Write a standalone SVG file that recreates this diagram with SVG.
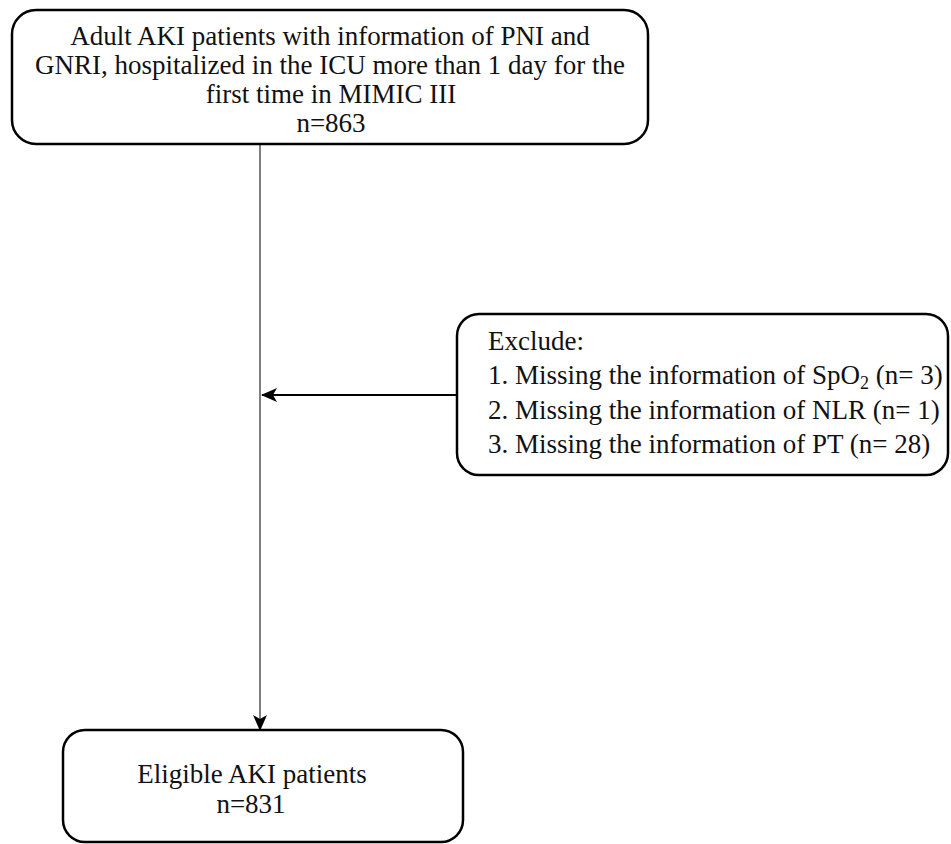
<svg xmlns="http://www.w3.org/2000/svg" width="951" height="844" viewBox="0 0 951 844">
<style>
.box{fill:#fff;stroke:#000;stroke-width:2.5}
.t{font-family:"Liberation Serif","Times New Roman",serif;font-size:27px;fill:#111}
.c{text-anchor:middle}
</style>
<defs>
<marker id="ah" markerWidth="16" markerHeight="14" refX="15" refY="7" orient="auto" markerUnits="userSpaceOnUse" viewBox="0 0 16 14">
<path d="M0,0 L16,7 L0,14 L4,7 Z" fill="#000"/>
</marker>
</defs>
<rect width="951" height="844" fill="#fff"/>
<g id="connectors">
<line x1="260" y1="144" x2="260" y2="730" stroke="#555" stroke-width="1.5" marker-end="url(#ah)"/>
<line x1="457" y1="395" x2="262" y2="395" stroke="#000" stroke-width="2" marker-end="url(#ah)"/>
</g>
<g id="node-start">
<rect class="box" x="12" y="10" width="636" height="134" rx="24"/>
<text class="t c" x="330" y="45">Adult AKI patients with information of PNI and</text>
<text class="t c" x="330" y="74">GNRI, hospitalized in the ICU more than 1 day for the</text>
<text class="t c" x="331" y="103">first time in MIMIC III</text>
<text class="t c" x="331" y="132">n=863</text>
</g>
<g id="node-exclude">
<rect class="box" x="457" y="314" width="491" height="161" rx="22"/>
<text class="t" x="488" y="350">Exclude:</text>
<text class="t" x="488" y="384">1. Missing the information of SpO<tspan font-size="18" dy="5">2</tspan><tspan dy="-5"> (n= 3)</tspan></text>
<text class="t" x="488" y="419">2. Missing the information of NLR (n= 1)</text>
<text class="t" x="488" y="453">3. Missing the information of PT (n= 28)</text>
</g>
<g id="node-eligible">
<rect class="box" x="63" y="730" width="400" height="112" rx="22"/>
<text class="t c" x="252" y="783">Eligible AKI patients</text>
<text class="t c" x="251" y="813">n=831</text>
</g>
</svg>
